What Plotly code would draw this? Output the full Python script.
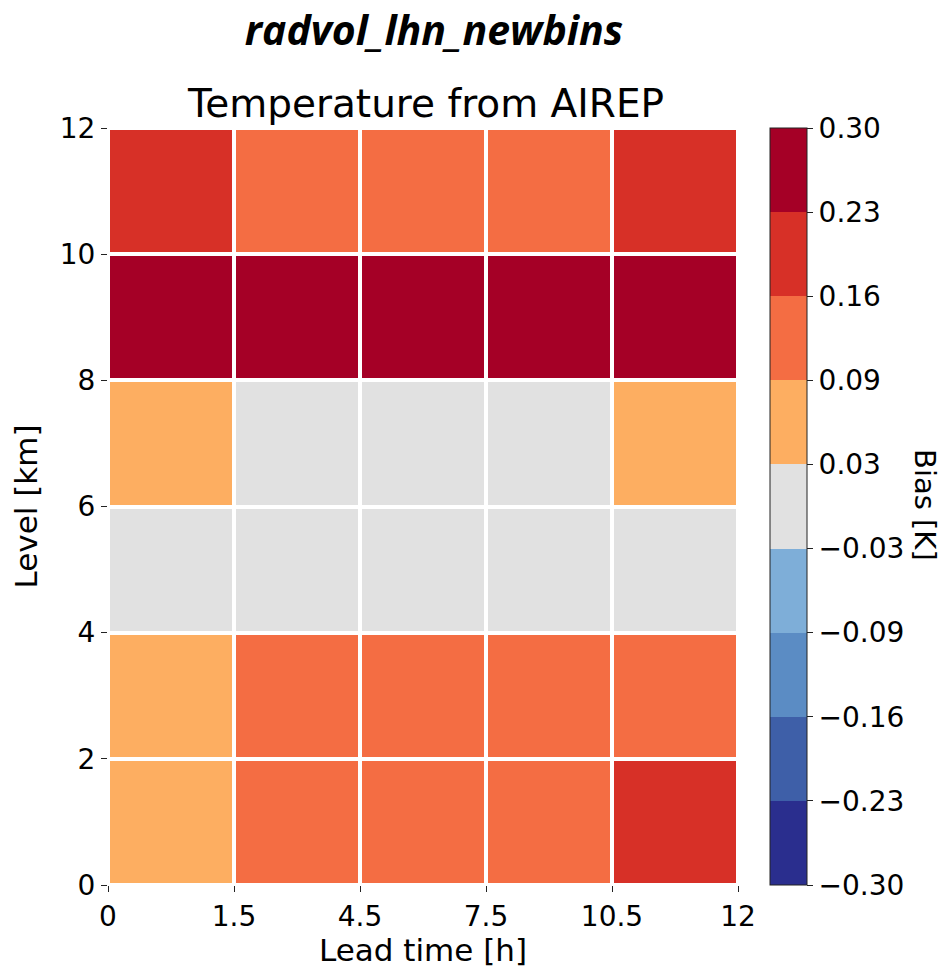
import plotly.graph_objects as go

# bin edges (labels); bins are drawn with equal width, as in the reference
x_ticklabels = ["0", "1.5", "4.5", "7.5", "10.5", "12"]
y_ticklabels = ["0", "2", "4", "6", "8", "10", "12"]

# rows from bottom (0-2 km) to top (10-12 km), columns = lead time bins
bias = [
    [0.06, 0.13, 0.13, 0.13, 0.20],
    [0.06, 0.13, 0.13, 0.13, 0.13],
    [0.00, 0.00, 0.00, 0.00, 0.00],
    [0.06, 0.00, 0.00, 0.00, 0.06],
    [0.28, 0.28, 0.28, 0.28, 0.28],
    [0.20, 0.13, 0.13, 0.13, 0.20],
]

cbar_ticklabels = ["\u22120.30", "\u22120.23", "\u22120.16", "\u22120.09", "\u22120.03",
                   "0.03", "0.09", "0.16", "0.23", "0.30"]
bin_colors = ["#2a2e8e", "#3e5fa8", "#5b8cc4", "#7eaed8", "#e1e1e1",
              "#fdae61", "#f46d43", "#d73027", "#a50026"]

zmin, zmax = -0.3, 0.3
n = len(bin_colors)
colorscale = []
for i, c in enumerate(bin_colors):
    colorscale.append([i / n, c])
    colorscale.append([(i + 1) / n, c])
cbar_tickvals = [zmin + k * (zmax - zmin) / n for k in range(n + 1)]

x_edges = list(range(len(x_ticklabels)))
y_edges = list(range(len(y_ticklabels)))

font = "DejaVu Sans"

fig = go.Figure(go.Heatmap(
    x=x_edges, y=y_edges, z=bias,
    zmin=zmin, zmax=zmax, colorscale=colorscale,
    xgap=4, ygap=4,
    colorbar=dict(
        x=(770 - 108) / 630, xanchor="left", xref="paper", xpad=0, ypad=0,
        y=0.5, yanchor="middle", len=1.0, lenmode="fraction",
        thickness=37, outlinewidth=1, outlinecolor="#222",
        tickvals=cbar_tickvals, ticktext=cbar_ticklabels,
        ticks="outside", ticklen=6, tickcolor="#222",
        tickfont=dict(family=font, size=28, color="black"),
    ),
))

fig.update_layout(
    width=943, height=968,
    margin=dict(l=108, r=205, t=128, b=83),
    paper_bgcolor="white", plot_bgcolor="white",
    font=dict(family=font, color="black"),
    title=dict(
        text="<b><i>radvol_lhn_newbins</i></b>",
        x=434 / 943, y=1 - 31 / 968, xref="container", yref="container",
        xanchor="center", yanchor="middle",
        font=dict(family="Open Sans", size=41, color="black"),
    ),
    xaxis=dict(
        range=[0, len(x_edges) - 1], tickvals=x_edges, ticktext=x_ticklabels,
        ticks="outside", ticklen=6, tickcolor="#222", showgrid=False, zeroline=False,
        showline=False, tickfont=dict(size=28),
        title=dict(text="Lead time [h]", font=dict(size=31), standoff=2),
    ),
    yaxis=dict(
        range=[0, len(y_edges) - 1], tickvals=y_edges, ticktext=y_ticklabels,
        ticks="outside", ticklen=6, tickcolor="#222",
        showgrid=False, zeroline=False, showline=False, tickfont=dict(size=28),
        title=dict(text="Level [km]", font=dict(size=31), standoff=12),
    ),
    annotations=[
        dict(text="Temperature from AIREP", xref="paper", yref="paper",
             x=(425 - 108) / 630, y=1 + (128 - 103) / 757, xanchor="center", yanchor="middle",
             showarrow=False, font=dict(family=font, size=39, color="black")),
        dict(text="Bias [K]", xref="paper", yref="paper",
             x=(925 - 108) / 630, y=(885 - 505) / 757, xanchor="center", yanchor="middle",
             textangle=90, showarrow=False, font=dict(family=font, size=29, color="black")),
    ],
)

fig.write_html("out.html")
